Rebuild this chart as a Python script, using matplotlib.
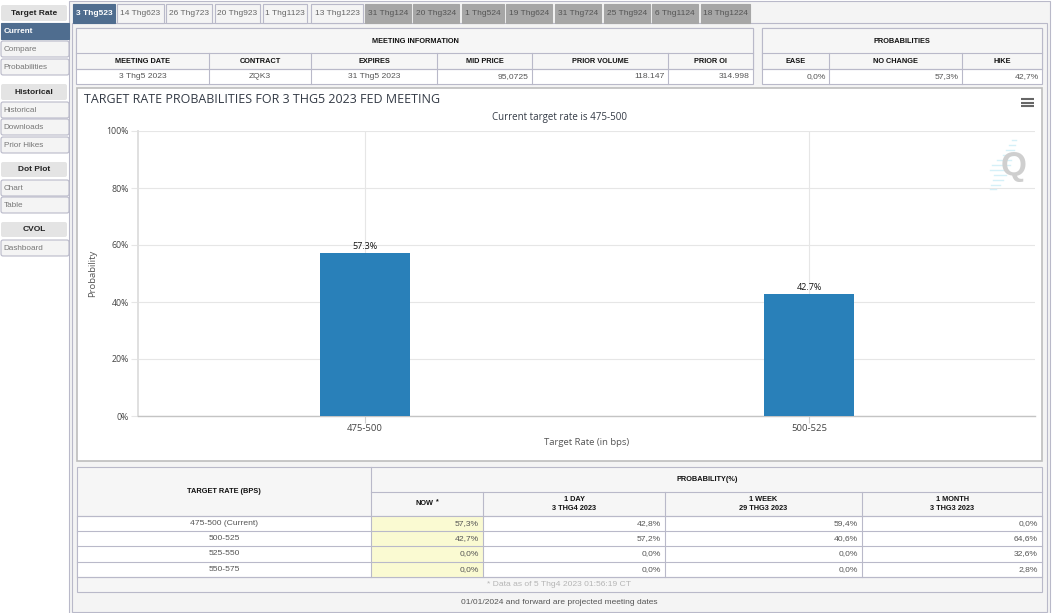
#!/usr/bin/env python3
"""
Fed meeting target rate probabilities, dashboard screenshot style
"""

import matplotlib
matplotlib.use('Agg')
import matplotlib.pyplot as plt
from matplotlib.patches import Rectangle, FancyBboxPatch

# chart data
rate_bins = ['475-500', '500-525']
rate_probs = [57.3, 42.7]
y_ticks = [0, 20, 40, 60, 80, 100]

# tabs
active_tabs = ['3 Thg523']
light_tabs = ['14 Thg623', '26 Thg723', '20 Thg923', '1 Thg1123', '13 Thg1223']
grey_tabs = ['31 Thg124', '20 Thg324', '1 Thg524', '19 Thg624', '31 Thg724',
             '25 Thg924', '6 Thg1124', '18 Thg1224']

# top tables
meeting_heads = ['MEETING DATE', 'CONTRACT', 'EXPIRES', 'MID PRICE', 'PRIOR VOLUME', 'PRIOR OI']
meeting_vals = ['3 Thg5 2023', 'ZQK3', '31 Thg5 2023', '95,0725', '118.147', '314.998']
prob_heads = ['EASE', 'NO CHANGE', 'HIKE']
prob_vals = ['0,0%', '57,3%', '42,7%']

# bottom table
table_rates = ['475-500 (Current)', '500-525', '525-550', '550-575']
now_vals = ['57,3%', '42,7%', '0,0%', '0,0%']
day_vals = ['42,8%', '57,2%', '0,0%', '0,0%']
week_vals = ['59,4%', '40,6%', '0,0%', '0,0%']
month_vals = ['0,0%', '64,6%', '32,6%', '2,8%']

LINE = '#b9b9c9'
HEAD_BG = '#f6f6f6'
TXT = '#555555'
ARIAL = 'Liberation Sans'
CHART_FONT = 'Open Sans'

fig = plt.figure(figsize=(10.55, 6.13), dpi=100, facecolor='#ffffff')

# full figure axes in pixel coordinates for the page around the chart
bg = fig.add_axes([0, 0, 1, 1])
bg.set_xlim(0, 1055)
bg.set_ylim(613, 0)
bg.axis('off')


def box(x0, y0, x1, y1, fc='none', ec=LINE, lw=0.8, z=1):
    bg.add_patch(Rectangle((x0, y0), x1 - x0, y1 - y0, fc=fc, ec=ec, lw=lw, zorder=z))


def rbox(x0, y0, x1, y1, fc, ec='none', lw=0.8, z=2):
    bg.add_patch(FancyBboxPatch((x0 + 2, y0 + 2), x1 - x0 - 4, y1 - y0 - 4,
                                boxstyle='round,pad=2', fc=fc, ec=ec, lw=lw, zorder=z))


def txt(x, y, s, size=6.1, color=TXT, weight='normal', ha='center', family=ARIAL):
    bg.text(x, y, s, fontsize=size, color=color, fontweight=weight, ha=ha, va='center',
            family=family, zorder=5)


def head(x, y, s, size=5.3):
    txt(x, y, s, size=size, color='#111111', weight='bold')


def vlines(xs, y0, y1):
    for x in xs:
        bg.plot([x, x], [y0, y1], color=LINE, lw=0.8, zorder=3)


def hlines(ys, x0, x1):
    for y in ys:
        bg.plot([x0, x1], [y, y], color=LINE, lw=0.8, zorder=3)


# page panels
box(69, 1, 1050, 640, fc='#f4f4f4', z=0)
box(72, 23, 1047, 612, fc='#f4f4f4', z=0)

# tabs along the top
tab_edges = [(73, 115), (117, 164), (166, 212), (215, 260), (263, 307), (311, 363),
             (365, 411), (413, 459), (462, 504), (506, 552), (555, 601), (604, 650),
             (652, 698), (701, 750)]
tab_names = active_tabs + light_tabs + grey_tabs
for i, (name, (x0, x1)) in enumerate(zip(tab_names, tab_edges)):
    if i == 0:
        fc, col, ec = '#4f6d8f', '#ffffff', '#4f6d8f'
    elif i < 6:
        fc, col, ec = '#f4f4f4', '#666666', LINE
    else:
        fc, col, ec = '#a6a6a6', '#555555', '#a6a6a6'
    box(x0, 4, x1, 23, fc=fc, ec=ec, z=2)
    txt((x0 + x1) / 2, 13.6, name, size=6.0, color=col, weight='bold' if i == 0 else 'normal')

# sidebar
side_heads = [('Target Rate', 5, 21), ('Historical', 84, 100), ('Dot Plot', 162, 177), ('CVOL', 222, 237)]
side_links = [('Compare', 41, 57), ('Probabilities', 59, 75), ('Historical', 102, 118),
              ('Downloads', 119, 135), ('Prior Hikes', 137, 153), ('Chart', 180, 196),
              ('Table', 197, 213), ('Dashboard', 240, 256)]
for name, y0, y1 in side_heads:
    rbox(1, y0, 67, y1, '#e4e4e4')
    txt(34, (y0 + y1) / 2 + 0.2, name, size=6.0, color='#222222', weight='bold')
for name, y0, y1 in side_links:
    rbox(1, y0, 69, y1, '#f4f4f4', ec=LINE)
    txt(3.5, (y0 + y1) / 2 + 0.2, name, size=5.9, color='#777777', ha='left')
box(1, 23, 69, 39, fc='#4f6d8f', ec='#4f6d8f', z=2)
txt(3.5, 31.6, 'Current', size=5.9, color='#ffffff', weight='bold', ha='left')

# meeting information table
meet_cols = [76, 209, 311, 437, 532, 668, 753]
box(76, 28, 753, 84, fc='#ffffff')
box(76, 28, 753, 69, fc=HEAD_BG)
hlines([53, 69], 76, 753)
vlines(meet_cols[1:-1], 53, 84)
head(415, 41.5, 'MEETING INFORMATION')
for i, (h, v) in enumerate(zip(meeting_heads, meeting_vals)):
    head((meet_cols[i] + meet_cols[i + 1]) / 2, 61.5, h)
    if i < 3:
        txt((meet_cols[i] + meet_cols[i + 1]) / 2, 76.5, v)
    else:
        txt(meet_cols[i + 1] - 3, 76.5, v, ha='right')

# probabilities table
prob_cols = [762, 829, 962, 1042]
box(762, 28, 1042, 84, fc='#ffffff')
box(762, 28, 1042, 69, fc=HEAD_BG)
hlines([53, 69], 762, 1042)
vlines(prob_cols[1:-1], 53, 84)
head(902, 41.5, 'PROBABILITIES')
for i, (h, v) in enumerate(zip(prob_heads, prob_vals)):
    head((prob_cols[i] + prob_cols[i + 1]) / 2, 61.5, h)
    txt(prob_cols[i + 1] - 3, 76.5, v, ha='right')

# chart panel
box(76.5, 87.5, 1041.5, 460.5, fc='#ffffff', ec='#bdbdbd', lw=1.2)
bg.text(84, 99.5, 'TARGET RATE PROBABILITIES FOR 3 THG5 2023 FED MEETING', fontsize=9.0,
        color='#333a45', ha='left', va='center', family=CHART_FONT, zorder=5)
bg.text(560, 117.5, 'Current target rate is 475-500', fontsize=7.0, color='#333a45',
        ha='center', va='center', family=CHART_FONT, zorder=5)
for y in [99, 102.5, 106]:
    bg.plot([1021, 1034], [y, y], color='#666666', lw=1.5, zorder=5, solid_capstyle='butt')

# bottom probability table
bot_cols = [371, 483, 665, 862, 1042]
box(77, 467, 1042, 592, fc=HEAD_BG)
box(77, 516, 1042, 577, fc='#ffffff')
box(371, 516, 483, 577, fc='#fafad2', ec='none', z=2)
hlines([516, 531, 546, 562, 577], 77, 1042)
hlines([492], 371, 1042)
vlines([371], 467, 577)
vlines(bot_cols[1:-1], 492, 577)
head(224, 491.5, 'TARGET RATE (BPS)')
head(707, 479.5, 'PROBABILITY(%)')
head(425, 503.5, 'NOW')
txt(437, 502, '*', size=5.0, color='#111111', weight='bold')
bot_heads = [('1 DAY', '3 THG4 2023'), ('1 WEEK', '29 THG3 2023'), ('1 MONTH', '3 THG3 2023')]
for i, (a, b) in enumerate(bot_heads):
    cx = (bot_cols[i + 1] + bot_cols[i + 2]) / 2
    head(cx, 499.5, a)
    head(cx, 508.5, b)
row_ys = [523.8, 538.8, 553.8, 569.8]
for i, y in enumerate(row_ys):
    txt(224, y, table_rates[i])
    for j, vals in enumerate([now_vals, day_vals, week_vals, month_vals]):
        txt(bot_cols[j + 1] - 4, y, vals[i], ha='right')
txt(559, 584.5, '* Data as of 5 Thg4 2023 01:56:19 CT', color='#b5b5b5')
txt(559, 602, '01/01/2024 and forward are projected meeting dates', size=6.0)

# the real chart
W, H = 1055.0, 613.0
left, right, top, bottom = 138.0, 1035.0, 131.0, 416.0
ax = fig.add_axes([left / W, 1 - bottom / H, (right - left) / W, (bottom - top) / H])
ax.patch.set_alpha(0)
x_pos = list(range(len(rate_bins)))
ax.bar(x_pos, rate_probs, width=0.203, color='#2980b9', zorder=3)
ax.set_xlim(-0.5113, 1.509)
ax.set_ylim(0, 100)
ax.set_xticks(x_pos)
ax.set_xticklabels(rate_bins, fontsize=6.8, color='#444444', family=CHART_FONT)
ax.set_yticks(y_ticks)
ax.set_yticklabels([f'{v}%' for v in y_ticks], fontsize=6.3, color='#444444', family=CHART_FONT)
ax.grid(True, color='#e6e6e6', lw=0.8, zorder=0)
ax.tick_params(axis='x', length=5, color='#d0d0d0', pad=1)
ax.tick_params(axis='y', length=5, color='#e6e6e6', pad=1.6)
for side in ['top', 'right']:
    ax.spines[side].set_visible(False)
ax.spines['left'].set_color('#e0e0e0')
ax.spines['left'].set_linewidth(1.4)
ax.spines['bottom'].set_color('#c4c4c4')
ax.spines['bottom'].set_linewidth(1.0)
for x, v in zip(x_pos, rate_probs):
    ax.annotate(f'{v:.1f}%', (x, v), xytext=(0, 1.5), textcoords='offset points', ha='center',
                va='bottom', fontsize=6.5, color='#111111', family=CHART_FONT, zorder=4)
bg.text(93, 273, 'Probability', rotation=90, fontsize=6.8, color='#555555', ha='center',
        va='center', family=CHART_FONT, zorder=5)
bg.text(587, 442.5, 'Target Rate (in bps)', fontsize=6.8, color='#555555', ha='center',
        va='center', family=CHART_FONT, zorder=5)

# watermark
for y, x0, x1 in [(140, 1012, 1016), (145, 1009, 1015), (150, 1006, 1014), (155, 1003, 1013),
                  (160, 997, 1011), (165, 992, 1010), (170, 990, 1008), (175, 994, 1006),
                  (180, 993, 1003), (185, 991, 1000), (189, 990, 996)]:
    bg.plot([x0, x1], [y, y], color='#d5f0f8', lw=1.0, zorder=6)
bg.text(1013.5, 166, 'Q', fontsize=24, color='#cfcfcf', fontweight='bold', ha='center', va='center',
        family=ARIAL, zorder=7)

fig.savefig('out.png', dpi=100)
